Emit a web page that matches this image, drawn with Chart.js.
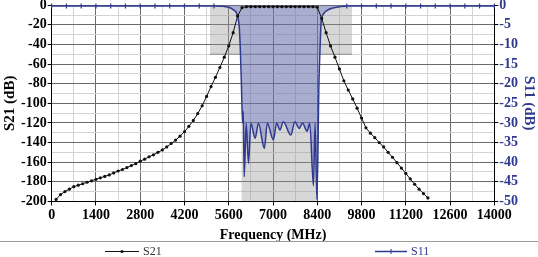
<!DOCTYPE html>
<html>
<head>
<meta charset="utf-8">
<script src="https://cdn.jsdelivr.net/npm/chart.js@4"></script>
<style>
  html, body { margin: 0; padding: 0; background: #fff; }
  #wrap { width: 538px; height: 257px; }
</style>
</head>
<body>
<div id="wrap"><canvas id="filterChart"></canvas></div>
<script>
// S21 sweep, frequency in MHz, level in dB
const s21Freq = [140, 280, 420, 560, 700, 840, 980, 1120, 1260, 1400,
  1540, 1680, 1820, 1960, 2100, 2240, 2380, 2520, 2660, 2800,
  2940, 3080, 3220, 3360, 3500, 3640, 3780, 3920, 4060, 4200,
  4340, 4480, 4620, 4760, 4900, 5040, 5180, 5320, 5460, 5600,
  5740, 5880, 6020, 6160, 6300, 6440, 6580, 6720, 6860, 7000,
  7140, 7280, 7420, 7560, 7700, 7840, 7980, 8120, 8260, 8400,
  8540, 8680, 8820, 8960, 9100, 9240, 9380, 9520, 9660, 9800,
  9940, 10080, 10220, 10360, 10500, 10640, 10780, 10920, 11060, 11200,
  11340, 11480, 11620, 11760, 11900];
const s21Val = [-198, -193, -190, -187.5, -185, -183.5, -182, -180.5, -179, -177.5,
  -176, -174.5, -173, -171, -169, -167.5, -165.5, -163.5, -161.5, -159,
  -157, -154.5, -152.5, -150, -147.5, -144.5, -141, -137.5, -133.5, -129,
  -123.5, -117.5, -110.5, -102.5, -93, -83, -73.5, -63.5, -53, -41.5,
  -28, -11, -2.5, -1.5, -1.5, -1.5, -1.5, -1.5, -1.5, -1.5,
  -1.5, -1.5, -1.5, -1.5, -1.5, -1.5, -1.5, -1.5, -1.5, -2,
  -13.5, -28, -41.5, -53, -65, -77, -86.5, -95.5, -105, -115,
  -125, -130.5, -135, -140, -144.5, -150, -155, -160.5, -166, -171.5,
  -177, -182.5, -187.5, -192, -196.5];

// S11 sweep, frequency in MHz, level in dB (right axis)
const s11Freq = [0, 467, 933, 1400, 1867, 2333, 2800, 3267, 3733, 4200, 4667, 5133,
  5600, 5750, 5860, 5933, 5970, 6000, 6020, 6040, 6060, 6090, 6152, 6225, 6300,
  6435, 6539, 6727, 6821, 7010, 7116, 7220, 7324, 7565, 7691, 7826, 7932, 8077,
  8162, 8280, 8330, 8390, 8453, 8497, 8520, 8600, 8700, 8900, 9100,
  9333, 9800, 10267, 10733, 11200, 11667, 12133, 12600, 13067, 13533, 14000];
const s11Val = [-0.2, -0.2, -0.2, -0.2, -0.2, -0.2, -0.2, -0.2, -0.2, -0.2, -0.2, -0.2,
  -0.5, -1.2, -2.3, -5.6, -12, -20, -26, -30, -27, -43.7, -30.1, -40.3, -30.1,
  -33.9, -30.1, -36.5, -30.1, -34.3, -30.1, -31.8, -29.7, -33.1, -29.7, -31.4, -30.1, -32.1,
  -30.1, -46, -30, -49.5, -20, -9, -4.5, -2.2, -1.4, -0.7, -0.4,
  -0.2, -0.2, -0.2, -0.2, -0.2, -0.2, -0.2, -0.2, -0.2, -0.2, -0.2];

// spec mask: stopband box and passband column
const maskFreq = [5000, 9500];
const maskLevel = -50;
const bandFreq = [6000, 8400];
const bandFloor = -200;

// tick labels
const xTickLabels = [0, 1400, 2800, 4200, 5600, 7000, 8400, 9800, 11200, 12600, 14000];
const s21TickLabels = [0, -20, -40, -60, -80, -100, -120, -140, -160, -180, -200];
const s11TickLabels = [0, -5, -10, -15, -20, -25, -30, -35, -40, -45, -50];

const navy = '#2f3a8f';
const majorGrid = '#6b6b6b';
const minorGrid = '#d4d4d4';
const serif = 'Liberation Serif';

function pairs(xs, ys) {
  return xs.map((x, i) => ({ x: x, y: ys[i] }));
}

// legend drawn under a separator line, like the original sheet
const bottomLegend = {
  id: 'bottomLegend',
  afterDraw(chart) {
    const ctx = chart.ctx;
    const sepY = chart.height - 15.5;
    const y = chart.height - 5.5;
    ctx.save();
    ctx.strokeStyle = '#9c9c9c';
    ctx.lineWidth = 1;
    ctx.beginPath();
    ctx.moveTo(0, sepY);
    ctx.lineTo(chart.width, sepY);
    ctx.stroke();

    const items = [
      { ds: chart.data.datasets[0], x0: 105, x1: 139, dot: true, color: '#333333' },
      { ds: chart.data.datasets[1], x0: 375, x1: 407, dot: false, color: navy }
    ];
    ctx.font = '12px "' + serif + '"';
    ctx.textBaseline = 'middle';
    items.forEach(it => {
      ctx.strokeStyle = it.ds.borderColor;
      ctx.lineWidth = it.ds.borderWidth;
      ctx.beginPath();
      ctx.moveTo(it.x0, y);
      ctx.lineTo(it.x1, y);
      ctx.stroke();
      const mid = (it.x0 + it.x1) / 2;
      if (it.dot) {
        ctx.fillStyle = it.ds.borderColor;
        ctx.beginPath();
        ctx.arc(mid, y, 1.6, 0, Math.PI * 2);
        ctx.fill();
      } else {
        ctx.lineWidth = 1;
        ctx.beginPath();
        ctx.moveTo(mid, y - 2.5);
        ctx.lineTo(mid, y + 2.5);
        ctx.stroke();
      }
      ctx.fillStyle = it.color;
      ctx.fillText(it.ds.label, it.x1 + 4, y);
    });
    ctx.restore();
  }
};

const ctxF = document.getElementById('filterChart').getContext('2d');
window.filterChart = new Chart(ctxF, {
  type: 'line',
  data: {
    datasets: [{
      label: 'S21',
      data: pairs(s21Freq, s21Val),
      yAxisID: 'y',
      borderColor: '#111111',
      borderWidth: 1,
      pointRadius: 1.6,
      pointBackgroundColor: '#111111',
      pointBorderWidth: 0,
      fill: false,
      order: 0
    }, {
      label: 'S11',
      data: pairs(s11Freq, s11Val),
      yAxisID: 'y2',
      borderColor: navy,
      borderWidth: 1.5,
      backgroundColor: 'rgba(70, 85, 190, 0.32)',
      fill: 'end',
      cubicInterpolationMode: 'monotone',
      pointStyle: 'line',
      rotation: 90,
      pointBorderWidth: 1.2,
      pointBorderColor: navy,
      pointRadius: c => (c.raw && c.raw.y > -0.35 ? 2.5 : 0),
      clip: 4,
      order: 1
    }, {
      label: 'band',
      data: pairs(bandFreq, [bandFloor, bandFloor]),
      yAxisID: 'y',
      borderWidth: 0,
      pointRadius: 0,
      backgroundColor: 'rgba(150, 150, 150, 0.38)',
      fill: { value: maskLevel },
      order: 3
    }, {
      label: 'mask',
      data: pairs(maskFreq, [maskLevel, maskLevel]),
      yAxisID: 'y',
      borderColor: '#8c8c8c',
      borderWidth: 1,
      pointRadius: 0,
      backgroundColor: 'rgba(150, 150, 150, 0.38)',
      fill: 'end',
      order: 4
    }]
  },
  options: {
    responsive: true,
    maintainAspectRatio: false,
    animation: false,
    devicePixelRatio: 1,
    layout: { padding: { left: 1, right: 0, top: -2, bottom: 13 } },
    plugins: {
      legend: { display: false },
      tooltip: { enabled: false }
    },
    scales: {
      x: {
        type: 'linear',
        min: 0,
        max: 14000,
        border: { color: '#000' },
        grid: {
          color: c => (xTickLabels.includes(c.tick.value) ? majorGrid : minorGrid),
          tickColor: c => (xTickLabels.includes(c.tick.value) ? '#000' : 'rgba(0,0,0,0)'),
          tickLength: 4
        },
        ticks: {
          stepSize: 700,
          autoSkip: false,
          maxRotation: 0,
          padding: 2,
          color: '#000',
          font: { family: serif, size: 14, weight: 'bold' },
          callback: v => (xTickLabels.includes(v) ? v : '')
        },
        title: {
          display: true,
          text: 'Frequency (MHz)',
          color: '#000',
          padding: { top: 1, bottom: 0 },
          font: { family: serif, size: 14, weight: 'bold' }
        }
      },
      y: {
        position: 'left',
        min: -200,
        max: 0,
        border: { color: '#000' },
        grid: {
          color: c => (s21TickLabels.includes(c.tick.value) ? majorGrid : minorGrid),
          tickColor: c => (s21TickLabels.includes(c.tick.value) ? '#000' : 'rgba(0,0,0,0)'),
          tickLength: 4
        },
        ticks: {
          stepSize: 10,
          autoSkip: false,
          padding: 1,
          color: '#000',
          font: { family: serif, size: 14, weight: 'bold', lineHeight: 0.5 },
          callback: v => (s21TickLabels.includes(v) ? v : '')
        },
        title: {
          display: true,
          text: 'S21 (dB)',
          color: '#000',
          padding: { top: 2, bottom: 2 },
          font: { family: serif, size: 15, weight: 'bold', lineHeight: 1 }
        }
      },
      y2: {
        position: 'right',
        min: -50,
        max: 0,
        border: { color: '#000' },
        grid: { drawOnChartArea: false, tickLength: 4, tickColor: '#000' },
        ticks: {
          stepSize: 5,
          autoSkip: false,
          padding: 1,
          color: navy,
          font: { family: serif, size: 14, weight: 'bold', lineHeight: 0.5 },
          callback: v => (s11TickLabels.includes(v) ? v : '')
        },
        title: {
          display: true,
          text: 'S11 (dB)',
          color: navy,
          padding: { top: 2, bottom: 2 },
          font: { family: serif, size: 15, weight: 'bold', lineHeight: 1 }
        }
      }
    }
  },
  plugins: [bottomLegend]
});
</script>
</body>
</html>
